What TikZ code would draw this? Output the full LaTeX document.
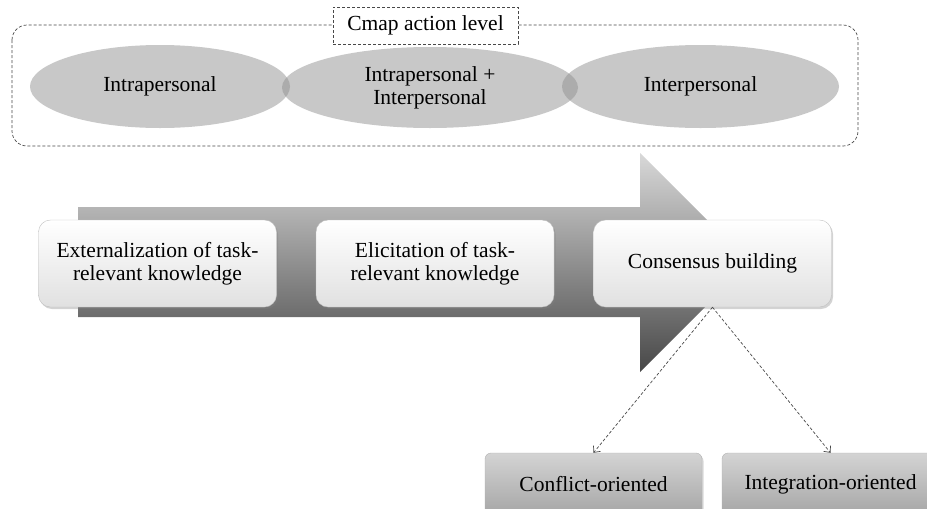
\documentclass[tikz,border=0pt]{standalone}
\usepackage{fontspec}
\setmainfont{Liberation Serif}
\usepackage{tikz}
\usetikzlibrary{arrows.meta,shapes,shadows}

\begin{document}
\begin{tikzpicture}[x=1pt,y=-1pt,
  every node/.style={font=\fontsize{21.5}{23}\selectfont, align=center},
  actlevel/.style={ellipse, fill=black!43, fill opacity=0.5, text opacity=1, inner sep=0pt},
  stagebox/.style={rounded corners=12pt, minimum width=238pt, minimum height=87pt,
    draw=black!25, top color=white, bottom color=black!12,
    drop shadow={opacity=0.35, shadow xshift=1.5pt, shadow yshift=-2pt}},
  modebox/.style={rounded corners=6pt, minimum width=217pt, minimum height=62pt,
    draw=black!30, top color=black!17, bottom color=black!35,
    drop shadow={opacity=0.3, shadow xshift=1.5pt, shadow yshift=-2pt}},
  dashline/.style={draw=black!72, line width=0.7pt, dash pattern=on 3pt off 2pt},
  linkarrow/.style={dashline, black!72, -{Straight Barb[length=5pt,width=9pt]}}]

  \useasboundingbox (0,0) rectangle (927,509);

  % Action level
  \draw[dashline, rounded corners=15pt] (12,25) rectangle (858,146);
  \node[dashline, fill=white, text=black, minimum width=185pt, minimum height=37pt] (cmap) at (425.5,25.5) {Cmap action level};
  \node[actlevel, minimum width=260pt, minimum height=83pt] (intra) at (160,86.5) {Intrapersonal};
  \node[actlevel, minimum width=296pt, minimum height=81pt] (both) at (430,87.5) {Intrapersonal +\\Interpersonal};
  \node[actlevel, minimum width=277pt, minimum height=83pt] (inter) at (700.5,86.5) {Interpersonal};

  % Process arrow
  \shade[top color=black!15, bottom color=black!72] (78,207) -- (640,207) -- (640,153) -- (749.5,262.5)
    -- (640,372) -- (640,317) -- (78,317) -- cycle;

  % Stages
  \node[stagebox] (extern) at (157.5,263.5) {Externalization of task-\\relevant knowledge};
  \node[stagebox] (elicit) at (435,263.5) {Elicitation of task-\\relevant knowledge};
  \node[stagebox] (consensus) at (712.5,263.5) {Consensus building};

  % Modes
  \node[modebox] (conflict) at (593.5,484) {Conflict-oriented};
  \node[modebox] (integration) at (830.5,484) {Integration-oriented};
  \draw[linkarrow] (consensus.south) -- (conflict.north);
  \draw[linkarrow] (consensus.south) -- (integration.north);

\end{tikzpicture}
\end{document}
